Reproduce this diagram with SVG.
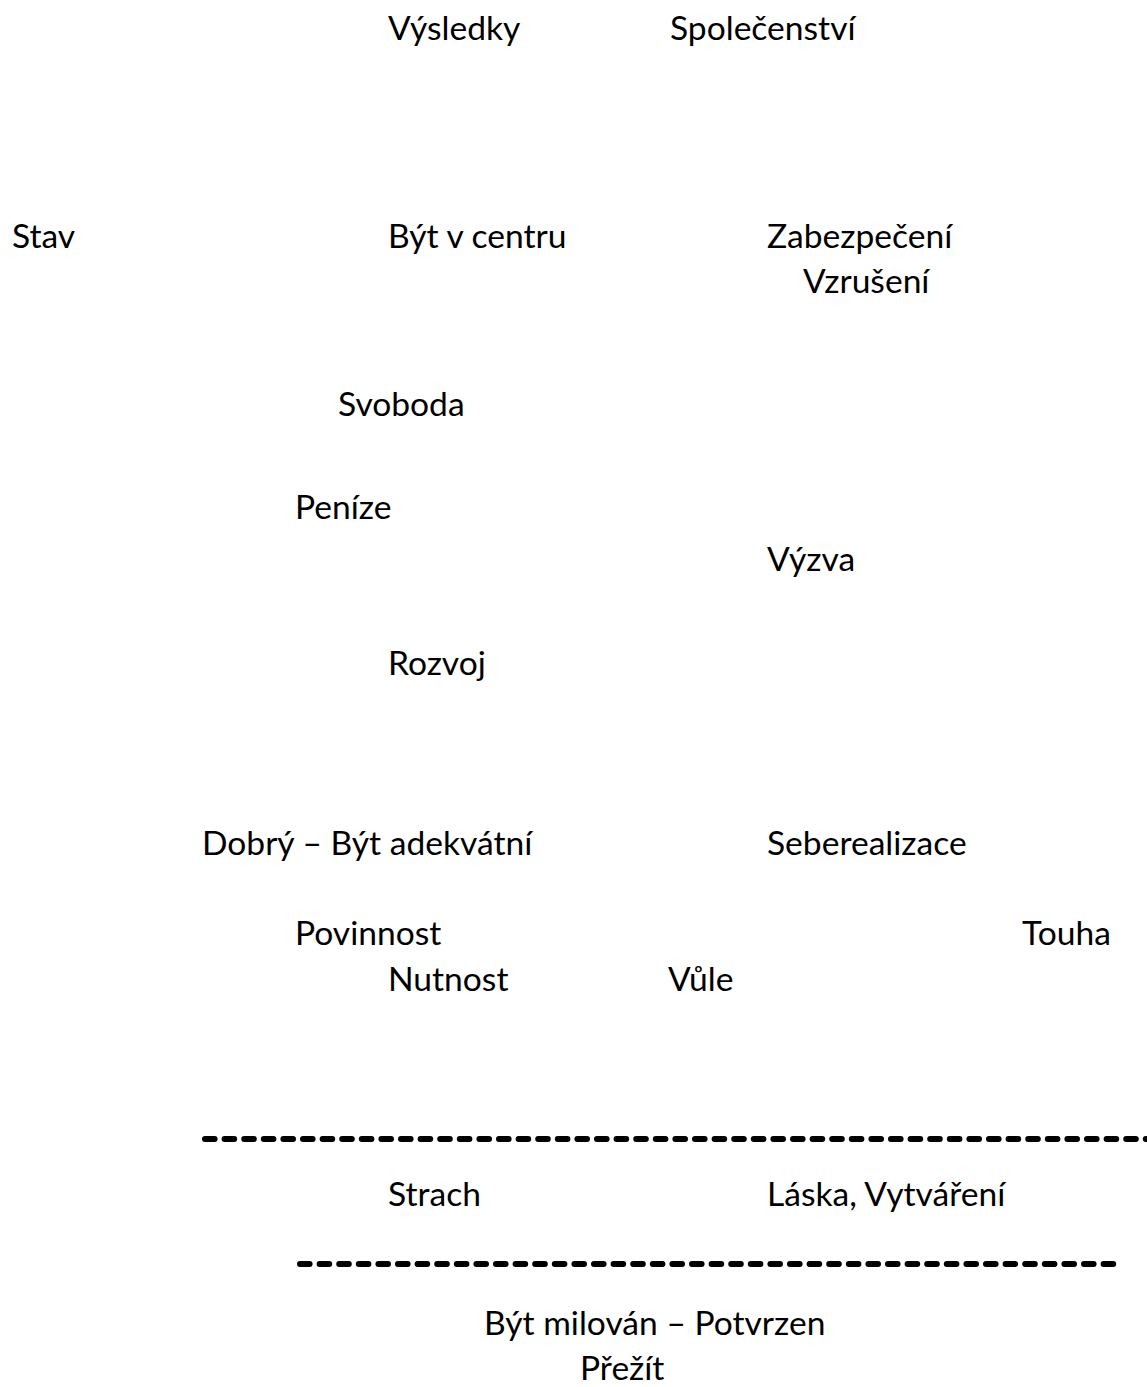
<svg xmlns="http://www.w3.org/2000/svg" width="1147" height="1387" viewBox="0 0 1147 1387">
<style>
text{font-family:Lato,"Open Sans","Liberation Sans",sans-serif;font-size:33.6px;fill:#000}
.dash{stroke:#000;stroke-width:6;stroke-linecap:round;stroke-dasharray:9.6 10;fill:none}
</style>
<rect width="1147" height="1387" fill="#fff"/>
<g id="n-vysledky"><text x="388" y="40">Výsledky</text></g>
<g id="n-spolecenstvi"><text x="670" y="40">Společenství</text></g>
<g id="n-stav"><text x="12" y="248">Stav</text></g>
<g id="n-byt-v-centru"><text x="388" y="248">Být v centru</text></g>
<g id="n-zabezpeceni"><text x="767" y="248">Zabezpečení</text></g>
<g id="n-vzruseni"><text x="803" y="293">Vzrušení</text></g>
<g id="n-svoboda"><text x="338" y="416">Svoboda</text></g>
<g id="n-penize"><text x="295" y="519">Peníze</text></g>
<g id="n-vyzva"><text x="767" y="571">Výzva</text></g>
<g id="n-rozvoj"><text x="388" y="675">Rozvoj</text></g>
<g id="n-dobry"><text x="202" y="855">Dobrý – Být adekvátní</text></g>
<g id="n-seberealizace"><text x="767" y="855">Seberealizace</text></g>
<g id="n-povinnost"><text x="295" y="945">Povinnost</text></g>
<g id="n-touha"><text x="1022" y="945">Touha</text></g>
<g id="n-nutnost"><text x="388" y="991">Nutnost</text></g>
<g id="n-vule"><text x="668" y="991">Vůle</text></g>
<g id="n-strach"><text x="388" y="1206">Strach</text></g>
<g id="n-laska"><text x="767" y="1206">Láska, Vytváření</text></g>
<g id="n-byt-milovan"><text x="484" y="1335">Být milován – Potvrzen</text></g>
<g id="n-prezit"><text x="580" y="1380">Přežít</text></g>
<g id="connectors">
<line class="dash" x1="205" y1="1139" x2="1150" y2="1139"/>
<line class="dash" x1="300" y1="1264" x2="1115" y2="1264"/>
</g>
</svg>
